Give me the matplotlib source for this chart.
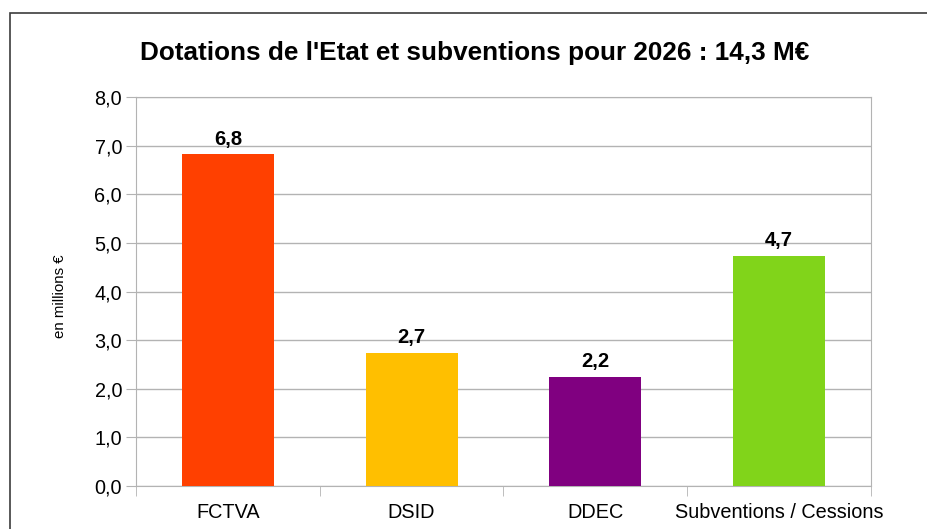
import matplotlib
matplotlib.use("Agg")
import matplotlib.pyplot as plt
from matplotlib.patches import Rectangle

categories = ["FCTVA", "DSID", "DDEC", "Subventions / Cessions"]
values = [6.82, 2.74, 2.24, 4.73]
colors = ["#ff4000", "#ffbf00", "#800080", "#81d41a"]
yticks = [0, 1, 2, 3, 4, 5, 6, 7, 8]

plt.rcParams['font.family'] = ['Liberation Sans', 'DejaVu Sans']

W, H = 928, 529
fig = plt.figure(figsize=(W / 100, H / 100), dpi=100)

# outer frame of the chart (runs off the right and bottom edges)
fig.patches.append(Rectangle((10 / W, -0.1), 2.0, 1 - 13 / H + 0.1,
                             transform=fig.transFigure, fill=False,
                             edgecolor="#3c3c3c", linewidth=1.2))

ax = fig.add_axes([136 / W, 1 - 486 / H, (871 - 136) / W, (486 - 97) / H])
x = list(range(len(categories)))
ax.bar(x, values, width=0.5, color=colors, zorder=3)
for xi, v in zip(x, values):
    ax.text(xi, v + 0.12, f"{v:.1f}".replace(".", ","), ha="center", va="bottom",
            fontsize=14.5, fontweight="bold")

ax.set_xlim(-0.5, len(categories) - 0.5)
ax.set_ylim(0, 8)
ax.set_yticks(yticks)
ax.set_yticklabels([f"{t:.1f}".replace(".", ",") for t in yticks], fontsize=14.3)
ax.yaxis.grid(True, color="#b3b3b3", linewidth=1, zorder=0)
ax.set_xticks(x)
ax.set_xticklabels(categories, fontsize=14.3)
ax.tick_params(axis="x", length=0, pad=12)
ax.set_xticks([i - 0.5 for i in range(len(categories) + 1)], minor=True)
ax.tick_params(axis="x", which="minor", length=7, color="#b3b3b3")
ax.tick_params(axis="y", length=7, color="#b3b3b3", pad=3)
for side in ["left", "bottom", "right", "top"]:
    ax.spines[side].set_color("#b3b3b3")

fig.text(60 / W, 1 - 296 / H, "en millions €", rotation=90,
         ha="center", va="center", fontsize=10.8)

fig.text(475 / W, 1 - 53 / H, "Dotations de l'Etat et subventions pour 2026 : 14,3 M€",
         ha="center", va="center", fontsize=18.8, fontweight="bold")

fig.savefig("out.png", dpi=100)
